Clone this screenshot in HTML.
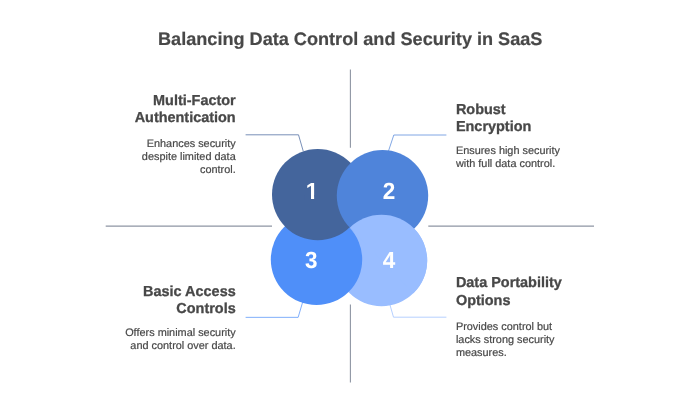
<!DOCTYPE html>
<html lang="en">
<head>
<meta charset="utf-8">
<title>Balancing Data Control and Security in SaaS</title>
<style>
html,body{margin:0;padding:0;background:#fff;}
body{width:700px;height:400px;overflow:hidden;}
svg{display:block;will-change:transform;}
text{font-family:"Liberation Sans",Arial,Helvetica,sans-serif;text-rendering:geometricPrecision;}
.title{font-size:18.12px;font-weight:700;fill:#484848;stroke:#484848;stroke-width:0.2px;}
.h{font-size:14.45px;font-weight:700;fill:#484848;stroke:#484848;stroke-width:0.3px;}
.b{font-size:10.9px;fill:#484848;stroke:#484848;stroke-width:0.2px;}
.num{font-size:22.5px;text-rendering:geometricPrecision;font-weight:700;fill:#fff;}
.axis{stroke:#8e95a3;stroke-width:1.1;fill:none;}
.c{fill:none;stroke-width:0.72;stroke-linejoin:round;stroke-linecap:round;}
</style>
</head>
<body>
<svg width="700" height="400" viewBox="0 0 700 400">
<defs>
<clipPath id="clip2"><polygon points="280.3,155.4 419.1,299.4 563.1,160.6 424.3,16.6"/></clipPath>
</defs>
<rect width="700" height="400" fill="#fff"/>
<!-- axes -->
<line class="axis" x1="350.4" y1="69.5" x2="350.4" y2="147.7"/>
<line class="axis" x1="350.4" y1="304.5" x2="350.4" y2="382.5"/>
<line class="axis" x1="105.7" y1="226.1" x2="272" y2="226.1"/>
<line class="axis" x1="428.3" y1="226.1" x2="594" y2="226.1"/>
<!-- connectors -->
<polyline class="c" stroke="#44659c" points="246,134.8 298.5,134.8 303.2,151"/>
<polyline class="c" stroke="#4f84da" points="446,135 393.8,135 388.5,151"/>
<polyline class="c" stroke="#4f8ff9" points="246,317.35 298.15,317.35 302.7,302"/>
<polyline class="c" stroke="#99bdff" points="446,317.2 393.5,317.2 390,305"/>
<!-- circles -->
<circle cx="349.7" cy="227.4" r="2.5" fill="#4f84da"/>
<circle cx="381.5" cy="260.5" r="45.7" fill="#99bdff"/>
<circle cx="316.5" cy="259.4" r="45.7" fill="#4f8ff9"/>
<circle cx="317.7" cy="194.6" r="45.7" fill="#44659c"/>
<circle cx="382.5" cy="195.7" r="45.7" fill="#4f84da"/>
<circle cx="381.5" cy="260.5" r="45.7" fill="#99bdff" clip-path="url(#clip2)"/>

<!-- numbers -->
<text class="num" transform="translate(312.0,198.8) scale(1,1.04)" text-anchor="middle">1</text>
<rect x="304.5" y="195.4" width="6.5" height="4.6" fill="#44659c"/><rect x="314.12" y="195.4" width="4.9" height="4.6" fill="#44659c"/>
<text class="num" transform="translate(389,198.8) scale(1,1.04)" text-anchor="middle">2</text>
<text class="num" transform="translate(311.2,268.4) scale(1,1.04)" text-anchor="middle">3</text>
<text class="num" transform="translate(389,268.4) scale(1,1.04)" text-anchor="middle">4</text>
<!-- title -->
<text class="title" transform="translate(350.2,44.5) scale(1,1.0)" text-anchor="middle">Balancing Data Control and Security in SaaS</text>
<!-- top-left -->
<text class="h" transform="translate(235.7,105) scale(1,1.0)" text-anchor="end">Multi-Factor</text>
<text class="h" transform="translate(235.7,122) scale(1,1.0)" text-anchor="end">Authentication</text>
<text class="b" transform="translate(235.7,147) scale(1,1.0)" text-anchor="end">Enhances security</text>
<text class="b" transform="translate(235.7,160) scale(1,1.0)" text-anchor="end">despite limited data</text>
<text class="b" transform="translate(235.7,173) scale(1,1.0)" text-anchor="end">control.</text>
<!-- top-right -->
<text class="h" transform="translate(455.9,114) scale(1,1.0)" text-anchor="start">Robust</text>
<text class="h" transform="translate(455.9,131) scale(1,1.0)" text-anchor="start">Encryption</text>
<text class="b" transform="translate(455.9,154) scale(1,1.0)" text-anchor="start">Ensures high security</text>
<text class="b" transform="translate(455.9,167) scale(1,1.0)" text-anchor="start">with full data control.</text>
<!-- bottom-left -->
<text class="h" transform="translate(235.7,296) scale(1,1.0)" text-anchor="end">Basic Access</text>
<text class="h" transform="translate(235.7,313) scale(1,1.0)" text-anchor="end">Controls</text>
<text class="b" transform="translate(235.7,336) scale(1,1.0)" text-anchor="end">Offers minimal security</text>
<text class="b" transform="translate(235.7,349) scale(1,1.0)" text-anchor="end">and control over data.</text>
<!-- bottom-right -->
<text class="h" transform="translate(455.9,287) scale(1,1.0)" text-anchor="start">Data Portability</text>
<text class="h" transform="translate(455.9,305) scale(1,1.0)" text-anchor="start">Options</text>
<text class="b" transform="translate(455.9,330) scale(1,1.0)" text-anchor="start">Provides control but</text>
<text class="b" transform="translate(455.9,343) scale(1,1.0)" text-anchor="start">lacks strong security</text>
<text class="b" transform="translate(455.9,356) scale(1,1.0)" text-anchor="start">measures.</text>
</svg>
</body>
</html>
